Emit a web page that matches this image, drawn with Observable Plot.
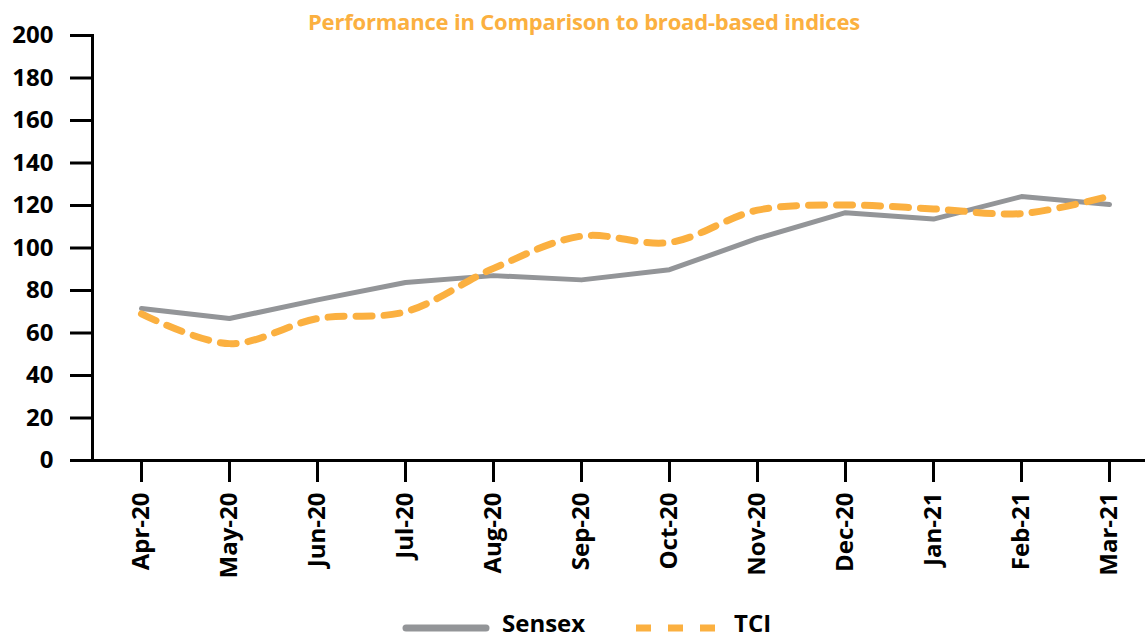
<!DOCTYPE html>
<html>
<head>
<meta charset="utf-8">
<script src="https://cdn.jsdelivr.net/npm/d3@7"></script>
<script src="https://cdn.jsdelivr.net/npm/@observablehq/plot@0.6"></script>
<style>
  body { margin: 0; background: #fff; font-family: "Open Sans", sans-serif; }
  #wrap { position: relative; width: 1145px; height: 642px; overflow: hidden; }
  #title { position: absolute; top: 6px; left: 0; width: 1168px; text-align: center;
           color: #FBB040; font-weight: 700; font-size: 22px; letter-spacing: -0.2px; line-height: 30px; }
  #chart { position: absolute; top: 0; left: 0; }
  .lg { position: absolute; font-weight: 700; font-size: 24px; line-height: 24px; color: #000; top: 611px; }
  #sw { position: absolute; top: 0; left: 0; }
</style>
</head>
<body>
<div id="wrap">
  <div id="chart"></div>
  <div id="title">Performance in Comparison to broad-based indices</div>
  <svg id="sw" width="1145" height="642">
    <line x1="406" y1="628" x2="486" y2="628" stroke="#939598" stroke-width="7" stroke-linecap="round"/>
    <line x1="636" y1="628" x2="716" y2="628" stroke="#FBB040" stroke-width="7" stroke-dasharray="15,17"/>
  </svg>
  <span class="lg" style="left:502px">Sensex</span>
  <span class="lg" style="left:734px">TCI</span>
</div>
<script>
const months = ["Apr-20","May-20","Jun-20","Jul-20","Aug-20","Sep-20","Oct-20","Nov-20","Dec-20","Jan-21","Feb-21","Mar-21"];
const sensex = [71.5, 66.8, 75.6, 83.8, 87.0, 85.0, 89.8, 104.5, 116.6, 113.6, 124.2, 120.5];
const tci    = [69.0, 55.0, 66.8, 70.0, 90.4, 105.6, 102.6, 117.8, 120.2, 118.4, 116.2, 124.4];
const yTicks = [0, 20, 40, 60, 80, 100, 120, 140, 160, 180, 200];

const sData = months.map((m, i) => ({month: m, value: sensex[i]}));
const tData = months.map((m, i) => ({month: m, value: tci[i]}));

const chart = Plot.plot({
  width: 1145,
  height: 600,
  marginTop: 35,
  marginBottom: 140,
  marginLeft: 92,
  marginRight: 0,
  style: {fontFamily: "'Open Sans', sans-serif", background: "white"},
  x: {type: "point", domain: months, range: [138, 1111], padding: 0},
  y: {domain: [0, 200]},
  marks: [
    Plot.axisY({ticks: yTicks, tickSize: 22, tickPadding: 17, fontSize: 24, fontWeight: 700,
                fill: "#000", stroke: "#000", strokeWidth: 3, label: null, strokeOpacity: 1}),
    Plot.axisX({tickSize: 22, tickPadding: 10, tickRotate: -90, fontSize: 24, fontWeight: 700,
                fill: "#000", stroke: "#000", strokeWidth: 3, label: null, strokeOpacity: 1}),
    Plot.frame({anchor: "left", stroke: "#000", strokeWidth: 3}),
    Plot.frame({anchor: "bottom", stroke: "#000", strokeWidth: 3}),
    Plot.line(sData, {x: "month", y: "value", stroke: "#939598", strokeWidth: 5, curve: "linear"}),
    Plot.line(tData, {x: "month", y: "value", stroke: "#FBB040", strokeWidth: 7,
                      strokeDasharray: "16,12", curve: "catmull-rom"})
  ]
});
document.getElementById("chart").appendChild(chart);
</script>
</body>
</html>
